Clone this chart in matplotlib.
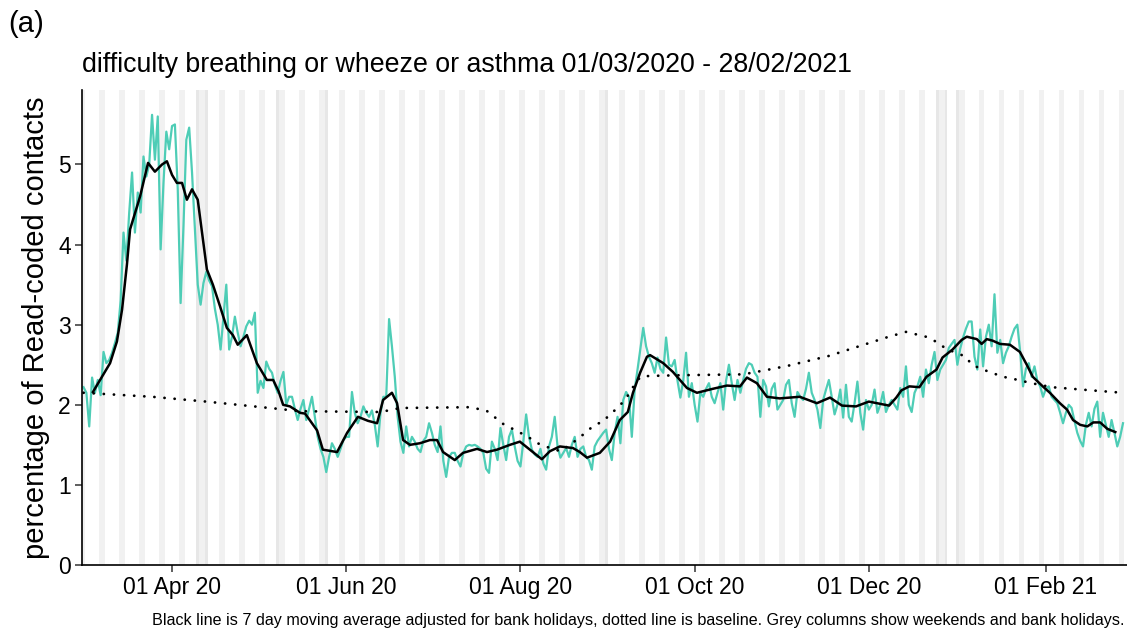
import matplotlib
matplotlib.use('Agg')
import matplotlib.pyplot as plt
import numpy as np
import pandas as pd

plt.rcParams['font.family'] = ['Liberation Sans', 'DejaVu Sans']

# daily percentage of Read-coded contacts, 01/03/2020 - 28/02/2021
mar = [2.22, 2.15, 1.73, 2.34, 2.15, 2.31, 2.12, 2.66, 2.52, 2.56,
       2.65, 2.77, 2.9, 3.3, 4.15, 3.8, 4.4, 4.9, 4.15, 4.65,
       4.4, 5.1, 4.85, 5.0, 5.62, 5.06, 5.6, 3.94, 4.77, 5.41, 5.19]
apr = [5.48, 5.5, 4.69, 3.27, 4.23, 5.31, 5.46, 4.9, 4.2, 3.5,
       3.25, 3.52, 3.66, 3.55, 3.48, 3.2, 3.0, 2.69, 3.1, 3.5,
       2.69, 2.85, 3.1, 2.9, 2.73, 2.85, 2.98, 3.05, 3.0, 3.15]
may = [2.15, 2.3, 2.21, 2.54, 2.45, 2.4, 2.25, 2.15, 2.3, 2.41,
       2.0, 2.1, 2.1, 1.95, 1.81, 1.95, 2.06, 1.81, 1.95, 2.1,
       1.85, 1.6, 1.45, 1.35, 1.16, 1.35, 1.52, 1.45, 1.35, 1.45, 1.56]
jun = [1.6, 1.6, 2.16, 1.9, 1.77, 1.85, 1.98, 1.9, 1.85, 1.93,
       1.75, 1.48, 1.9, 2.1, 2.1, 3.07, 2.73, 2.35, 1.85, 1.54,
       1.4, 1.73, 1.48, 1.6, 1.54, 1.45, 1.41, 1.55, 1.6, 1.77]
jul = [1.65, 1.5, 1.41, 1.73, 1.3, 1.1, 1.35, 1.4, 1.4, 1.3,
       1.23, 1.4, 1.48, 1.5, 1.49, 1.5, 1.48, 1.45, 1.4, 1.2,
       1.15, 1.54, 1.45, 1.31, 1.71, 1.5, 1.31, 1.6, 1.69, 1.48, 1.3]
aug = [1.23, 1.54, 1.88, 1.6, 1.44, 1.38, 1.35, 1.45, 1.27, 1.19,
       1.48, 1.6, 1.85, 1.48, 1.34, 1.4, 1.46, 1.35, 1.5, 1.6,
       1.35, 1.45, 1.48, 1.35, 1.31, 1.19, 1.48, 1.55, 1.6, 1.65, 1.69]
sep = [1.45, 1.31, 1.65, 1.85, 1.52, 2.06, 2.16, 2.1, 1.6, 2.19,
       2.44, 2.7, 2.96, 2.73, 2.6, 2.52, 2.4, 2.59, 2.45, 2.4,
       2.84, 2.5, 2.48, 2.56, 2.3, 2.09, 2.3, 2.65, 2.1, 2.27]
oct_ = [2.0, 1.79, 2.15, 2.1, 2.2, 2.27, 2.1, 2.02, 2.15, 2.27,
        1.94, 2.3, 2.5, 2.27, 2.06, 2.31, 2.15, 2.31, 2.45, 2.52,
        2.5, 2.4, 2.35, 1.85, 2.31, 2.23, 1.98, 2.2, 2.27, 1.94, 2.0]
nov = [2.06, 2.25, 2.31, 2.02, 1.85, 2.16, 2.1, 2.06, 2.2, 2.4,
       2.15, 2.06, 1.94, 1.71, 2.06, 2.19, 2.31, 2.1, 1.88, 2.0,
       2.19, 1.84, 2.25, 1.85, 1.79, 2.02, 2.29, 1.9, 1.69, 2.06]
dec = [1.94, 2.0, 2.19, 1.9, 2.0, 2.16, 1.91, 2.0, 2.06, 2.0,
       1.94, 2.21, 2.1, 2.48, 2.0, 1.91, 2.15, 2.23, 2.35, 2.1,
       2.44, 2.27, 2.5, 2.66, 2.31, 2.44, 2.5, 2.56, 2.71, 2.76, 2.81]
jan = [2.5, 2.7, 2.84, 2.95, 3.04, 3.04, 2.6, 2.44, 2.94, 2.48,
       2.85, 3.0, 2.73, 3.38, 2.65, 2.81, 2.52, 2.65, 2.73, 2.85,
       2.95, 3.0, 2.66, 2.23, 2.45, 2.52, 2.35, 2.48, 2.3, 2.23, 2.1]
feb = [2.2, 2.23, 2.1, 2.06, 2.02, 1.9, 1.77, 1.9, 2.0, 1.96,
       1.8, 1.65, 1.55, 1.48, 1.75, 1.9, 1.73, 1.95, 2.04, 1.6,
       1.9, 1.75, 1.6, 1.81, 1.65, 1.48, 1.6, 1.77]

# 7 day moving average (adjusted for bank holidays)
ma_day = [3.3, 6.8, 9.3, 11.7, 13.5, 15.2, 16.3, 19.8, 22.6, 25, 27.5, 29.2, 31,
          32.7, 34.5, 36.2, 38, 40, 41.5, 43.2, 45.3, 47.8, 50.2, 52.3, 54,
          57.2, 60.7, 64.2, 66.4, 68.3, 69.9, 72.3, 75.8, 77.6, 81.8, 83.8,
          88.8, 92.3, 96.1, 99.6, 102.8, 104.9, 108, 109.8, 111.9, 114.3,
          117.8, 121.3, 123.8, 125.9, 130, 132.9, 137.8, 141.3, 144.8, 149.3,
          152.8, 156.3, 160.5, 163.3, 166.8, 171.4, 173.8, 176.3, 180.8,
          184.4, 187.8, 190.6, 192.4, 194.9, 197.3, 198.4, 203, 206.4, 211.3,
          214.8, 220.4, 225.3, 229.9, 232.3, 235.8, 239.3, 243.8, 250.8,
          256.8, 261.4, 265.6, 270.5, 275, 282.1, 284.6, 286.4, 289.2, 292.7,
          295.2, 298.7, 300.8, 304.3, 307.5, 309.3, 312.8, 314.5, 316.3,
          318.4, 320.9, 324.4, 327.9, 330.3, 332.4, 335.9, 338.4, 341.9,
          344.4, 346.5, 349, 351.5, 353.6, 356, 358.5, 361.3]
ma_val = [2.16, 2.37, 2.52, 2.79, 3.19, 3.75, 4.19, 4.6, 5.02, 4.91, 5.0, 5.04,
          4.87, 4.77, 4.77, 4.56, 4.69, 4.56, 4.15, 3.69, 3.5, 3.23, 2.96,
          2.87, 2.75, 2.87, 2.52, 2.31, 2.31, 2.17, 2.0, 1.98, 1.9, 1.89, 1.68,
          1.44, 1.41, 1.65, 1.85, 1.8, 1.77, 2.06, 2.15, 2.02, 1.56, 1.5, 1.52,
          1.56, 1.56, 1.41, 1.31, 1.4, 1.45, 1.41, 1.44, 1.5, 1.54, 1.44, 1.32,
          1.42, 1.48, 1.46, 1.41, 1.34, 1.4, 1.54, 1.81, 1.91, 2.15, 2.4, 2.6,
          2.62, 2.52, 2.41, 2.21, 2.15, 2.2, 2.24, 2.23, 2.34, 2.27, 2.1, 2.08,
          2.1, 2.02, 2.09, 1.99, 1.98, 2.04, 1.99, 2.09, 2.18, 2.23, 2.22,
          2.35, 2.44, 2.59, 2.69, 2.81, 2.85, 2.82, 2.76, 2.82, 2.8, 2.76,
          2.75, 2.66, 2.5, 2.35, 2.23, 2.15, 2.02, 1.94, 1.81, 1.75, 1.73,
          1.78, 1.78, 1.7, 1.66]

# baseline (dotted)
base_day = [0, 24, 43, 68, 76, 104, 111, 135, 141, 147, 153, 157, 160, 167,
            173, 176, 179, 182, 184, 187, 190, 192, 195, 198, 210, 231, 240,
            247, 254, 261, 268, 275, 282, 288, 295, 299, 302, 309, 311, 315,
            318, 322, 326, 332, 339, 346, 353, 364]
base_val = [2.15, 2.1, 2.04, 1.95, 1.92, 1.91, 1.96, 1.97, 1.93, 1.76, 1.65,
            1.57, 1.5, 1.42, 1.57, 1.66, 1.75, 1.79, 1.87, 1.96, 2.08, 2.2,
            2.35, 2.36, 2.37, 2.38, 2.44, 2.49, 2.55, 2.61, 2.69, 2.77, 2.85,
            2.91, 2.85, 2.78, 2.7, 2.6, 2.5, 2.44, 2.4, 2.35, 2.32, 2.27, 2.22,
            2.2, 2.18, 2.15]

bank_holidays = ['2020-04-10', '2020-04-13', '2020-05-08', '2020-05-25',
                 '2020-08-31', '2020-12-25', '2020-12-28', '2021-01-01']
tick_dates = ['2020-04-01', '2020-06-01', '2020-08-01', '2020-10-01',
              '2020-12-01', '2021-02-01']
tick_labels = ['01 Apr 20', '01 Jun 20', '01 Aug 20', '01 Oct 20',
               '01 Dec 20', '01 Feb 21']

daily = mar + apr + may + jun + jul + aug + sep + oct_ + nov + dec + jan + feb
dates = pd.date_range('2020-03-01', periods=len(daily), freq='D')
start = dates[0]
days = np.arange(len(daily))
weekend = dates.dayofweek >= 5
bh = dates.isin(pd.to_datetime(bank_holidays))

YTOP = 5.93

fig = plt.figure(figsize=(11.27, 6.34), dpi=100)
ax = fig.add_axes([82 / 1127, 1 - 565 / 634, 1045 / 1127, 475 / 634])

# grey columns for weekends and bank holidays
ax.bar(days[weekend & ~bh], YTOP, width=1, color='#f1f1f1', zorder=0)
ax.bar(days[bh], YTOP, width=1, color='#e7e7e7', zorder=0)

ax.plot(days, daily, color='#4ecdb6', lw=1.6, zorder=2)
ax.plot(ma_day, ma_val, color='black', lw=1.8, zorder=3)
ax.plot(base_day, base_val, color='black', lw=2, ls=(0, (0.05, 3.6)),
        dash_capstyle='round', zorder=3)

ax.set_xlim(-0.53, 365.4)
ax.set_ylim(0, YTOP)
ax.set_yticks([0, 1, 2, 3, 4, 5])
ax.set_xticks([(pd.Timestamp(d) - start).days for d in tick_dates])
ax.set_xticklabels(tick_labels)
ax.tick_params(labelsize=16.5, length=5, width=1.1, color='#333333', pad=3)
for s in ['top', 'right']:
    ax.spines[s].set_visible(False)
for s in ['left', 'bottom']:
    ax.spines[s].set_linewidth(1.2)
ax.set_ylabel('percentage of Read-coded contacts', fontsize=21, labelpad=6)

fig.text(82 / 1127, 1 - 65 / 634, 'difficulty breathing or wheeze or asthma 01/03/2020 - 28/02/2021',
         fontsize=19.3, va='center', ha='left')
fig.text(8 / 1127, 1 - 24 / 634, '(a)', fontsize=21, va='center', ha='left')
fig.text(1125 / 1127, 1 - 620 / 634,
         'Black line is 7 day moving average adjusted for bank holidays, dotted line is baseline. '
         'Grey columns show weekends and bank holidays.',
         fontsize=11.6, va='center', ha='right')

fig.savefig('out.png', dpi=100)
